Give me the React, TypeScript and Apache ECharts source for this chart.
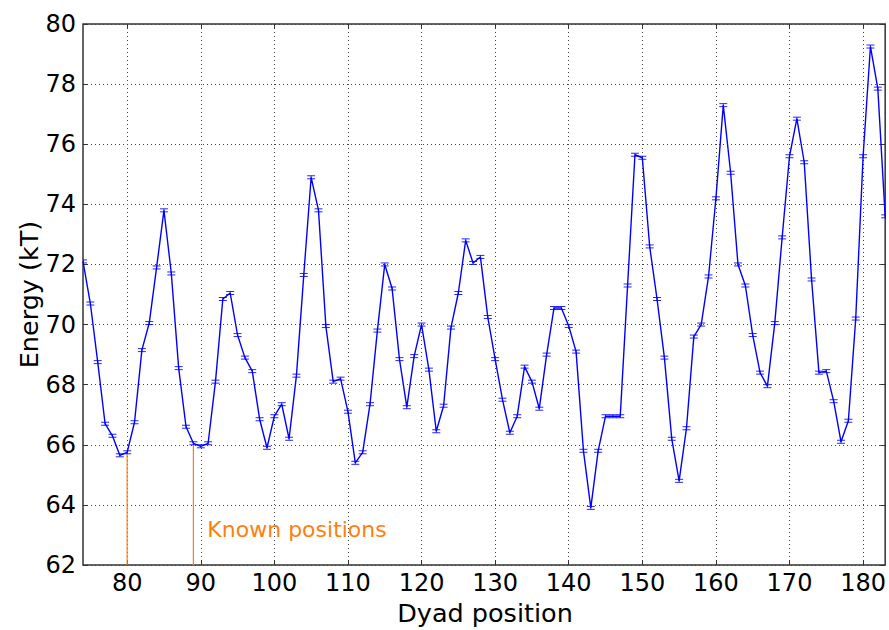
import { useEffect, useRef } from "react";
import * as echarts from "echarts";

const positions = [
  74, 75, 76, 77, 78, 79, 80, 81, 82, 83, 84, 85, 86, 87, 88, 89, 90, 91, 92, 93,
  94, 95, 96, 97, 98, 99, 100, 101, 102, 103, 104, 105, 106, 107, 108, 109, 110, 111, 112, 113,
  114, 115, 116, 117, 118, 119, 120, 121, 122, 123, 124, 125, 126, 127, 128, 129, 130, 131, 132, 133,
  134, 135, 136, 137, 138, 139, 140, 141, 142, 143, 144, 145, 146, 147, 148, 149, 150, 151, 152, 153,
  154, 155, 156, 157, 158, 159, 160, 161, 162, 163, 164, 165, 166, 167, 168, 169, 170, 171, 172, 173,
  174, 175, 176, 177, 178, 179, 180, 181, 182, 183,
];

const energies = [
  72.1, 70.7, 68.75, 66.7, 66.3, 65.65, 65.75, 66.75, 69.15, 70.05, 71.9, 73.8, 71.7, 68.55, 66.6, 66.05, 65.95, 66.05, 68.1, 70.85,
  71.05, 69.65, 68.9, 68.45, 66.85, 65.9, 66.95, 67.35, 66.2, 68.3, 71.65, 74.9, 73.8, 69.95, 68.1, 68.2, 67.1, 65.4, 65.75, 67.35,
  69.8, 72.0, 71.2, 68.85, 67.25, 68.95, 70.0, 68.5, 66.45, 67.3, 69.9, 71.05, 72.8, 72.05, 72.25, 70.25, 68.85, 67.5, 66.4, 66.95,
  68.6, 68.1, 67.2, 69.0, 70.55, 70.55, 69.95, 69.1, 65.8, 63.9, 65.8, 66.95, 66.95, 66.95, 71.3, 75.65, 75.55, 72.6, 70.85, 68.9,
  66.2, 64.8, 66.55, 69.6, 70.0, 71.6, 74.2, 77.3, 75.05, 72.0, 71.3, 69.65, 68.4, 67.95, 70.05, 72.9, 75.6, 76.85, 75.4, 71.5,
  68.4, 68.45, 67.45, 66.1, 66.8, 70.2, 75.6, 79.25, 77.85, 73.6,
];

// error bar half-height (kT), read as roughly constant from the caps
const errorBar = 0.05;

const knownPositions = [80, 89];
const annotationText = "Known positions";
const annotationAt = [90.9, 63.19];

const xTicks = [80, 90, 100, 110, 120, 130, 140, 150, 160, 170, 180];
const xMin = 74;
const xMax = 183;
const yMin = 62;
const yMax = 80;
const yStep = 2;

const xTitle = "Dyad position";
const yTitle = "Energy (kT)";

export default function App() {
  const ref = useRef<HTMLDivElement>(null);

  useEffect(() => {
    if (!ref.current) return;
    const chart = echarts.init(ref.current, null, { renderer: "svg" });
    const font = "DejaVu Sans";
    const orange = "#ff7f0e";
    const pts = positions.map((p, i) => [p, energies[i]]);
    const errData = positions.map((p, i) => [p, energies[i], errorBar]);
    const knownData = knownPositions.map((k) => [k, energies[positions.indexOf(k)]]);

    const tickStyle = { color: "#333", width: 1 };
    const gridLine = { show: true, lineStyle: { color: "#444", type: [1, 3], width: 1 } };

    const option: any = {
      animation: false,
      backgroundColor: "#fff",
      grid: {
        left: 83,
        right: 2,
        top: 24,
        bottom: 65,
        show: true,
        borderColor: "#333",
        borderWidth: 1.5,
        backgroundColor: "transparent",
      },
      xAxis: [
        {
          type: "value",
          min: xMin,
          max: xMax,
          position: "bottom",
          axisLine: { show: false },
          axisTick: { show: true, inside: true, length: 5, lineStyle: tickStyle, customValues: xTicks },
          axisLabel: { customValues: xTicks, fontSize: 24, fontFamily: font, color: "#000", margin: 6 },
          splitLine: gridLine,
        },
        {
          type: "value",
          min: xMin,
          max: xMax,
          position: "top",
          axisLine: { show: false },
          axisTick: { show: true, inside: true, length: 5, lineStyle: tickStyle, customValues: xTicks },
          axisLabel: { show: false },
          splitLine: { show: false },
        },
      ],
      yAxis: [
        {
          type: "value",
          min: yMin,
          max: yMax,
          interval: yStep,
          position: "left",
          axisLine: { show: false },
          axisTick: { show: true, inside: true, length: 5, lineStyle: tickStyle },
          axisLabel: { fontSize: 24, fontFamily: font, color: "#000", margin: 7 },
          splitLine: gridLine,
        },
        {
          type: "value",
          min: yMin,
          max: yMax,
          interval: yStep,
          position: "right",
          axisLine: { show: false },
          axisTick: { show: true, inside: true, length: 5, lineStyle: tickStyle },
          axisLabel: { show: false },
          splitLine: { show: false },
        },
      ],
      graphic: [
        {
          type: "text",
          x: 485,
          y: 613,
          style: {
            text: xTitle,
            fontSize: 25.5,
            fontFamily: font,
            fill: "#000",
            align: "center",
            verticalAlign: "middle",
          },
        },
        {
          type: "text",
          x: 29,
          y: 294.5,
          rotation: Math.PI / 2,
          style: {
            text: yTitle,
            fontSize: 25.5,
            fontFamily: font,
            fill: "#000",
            align: "center",
            verticalAlign: "middle",
          },
        },
      ],
      series: [
        {
          type: "custom",
          data: knownData,
          z: 2,
          encode: { x: 0, y: 1 },
          renderItem: (_params: any, api: any) => {
            const x = api.value(0);
            const y = api.value(1);
            const a = api.coord([x, yMin]);
            const b = api.coord([x, y]);
            return {
              type: "line",
              shape: { x1: a[0], y1: a[1], x2: b[0], y2: b[1] },
              style: { stroke: orange, lineWidth: 1.2 },
            };
          },
        },
        {
          type: "line",
          data: pts,
          showSymbol: false,
          symbol: "none",
          lineStyle: { color: "#0000ff", width: 1.4 },
          z: 3,
        },
        {
          type: "custom",
          data: errData,
          clip: true,
          z: 4,
          encode: { x: 0, y: 1 },
          renderItem: (_params: any, api: any) => {
            const x = api.value(0);
            const y = api.value(1);
            const e = api.value(2);
            const top = api.coord([x, y + e]);
            const bot = api.coord([x, y - e]);
            const hw = 4;
            const st = { stroke: "#0000ff", lineWidth: 1, opacity: 0.85 };
            return {
              type: "group",
              children: [
                { type: "line", shape: { x1: top[0] - hw, y1: top[1], x2: top[0] + hw, y2: top[1] }, style: st },
                { type: "line", shape: { x1: bot[0] - hw, y1: bot[1], x2: bot[0] + hw, y2: bot[1] }, style: st },
                { type: "line", shape: { x1: top[0], y1: top[1], x2: bot[0], y2: bot[1] }, style: st },
              ],
            };
          },
        },
        {
          type: "custom",
          data: [annotationAt],
          z: 5,
          encode: { x: 0, y: 1 },
          renderItem: (_params: any, api: any) => {
            const p = api.coord([api.value(0), api.value(1)]);
            return {
              type: "text",
              x: p[0],
              y: p[1],
              style: {
                text: annotationText,
                fill: orange,
                fontSize: 22,
                fontFamily: font,
                align: "left",
                verticalAlign: "middle",
              },
            };
          },
        },
      ],
    };

    chart.setOption(option);
    return () => chart.dispose();
  }, []);

  return (
    <div
      ref={ref}
      style={{ position: "fixed", left: 0, top: 0, width: 889, height: 630, background: "#fff" }}
    />
  );
}
